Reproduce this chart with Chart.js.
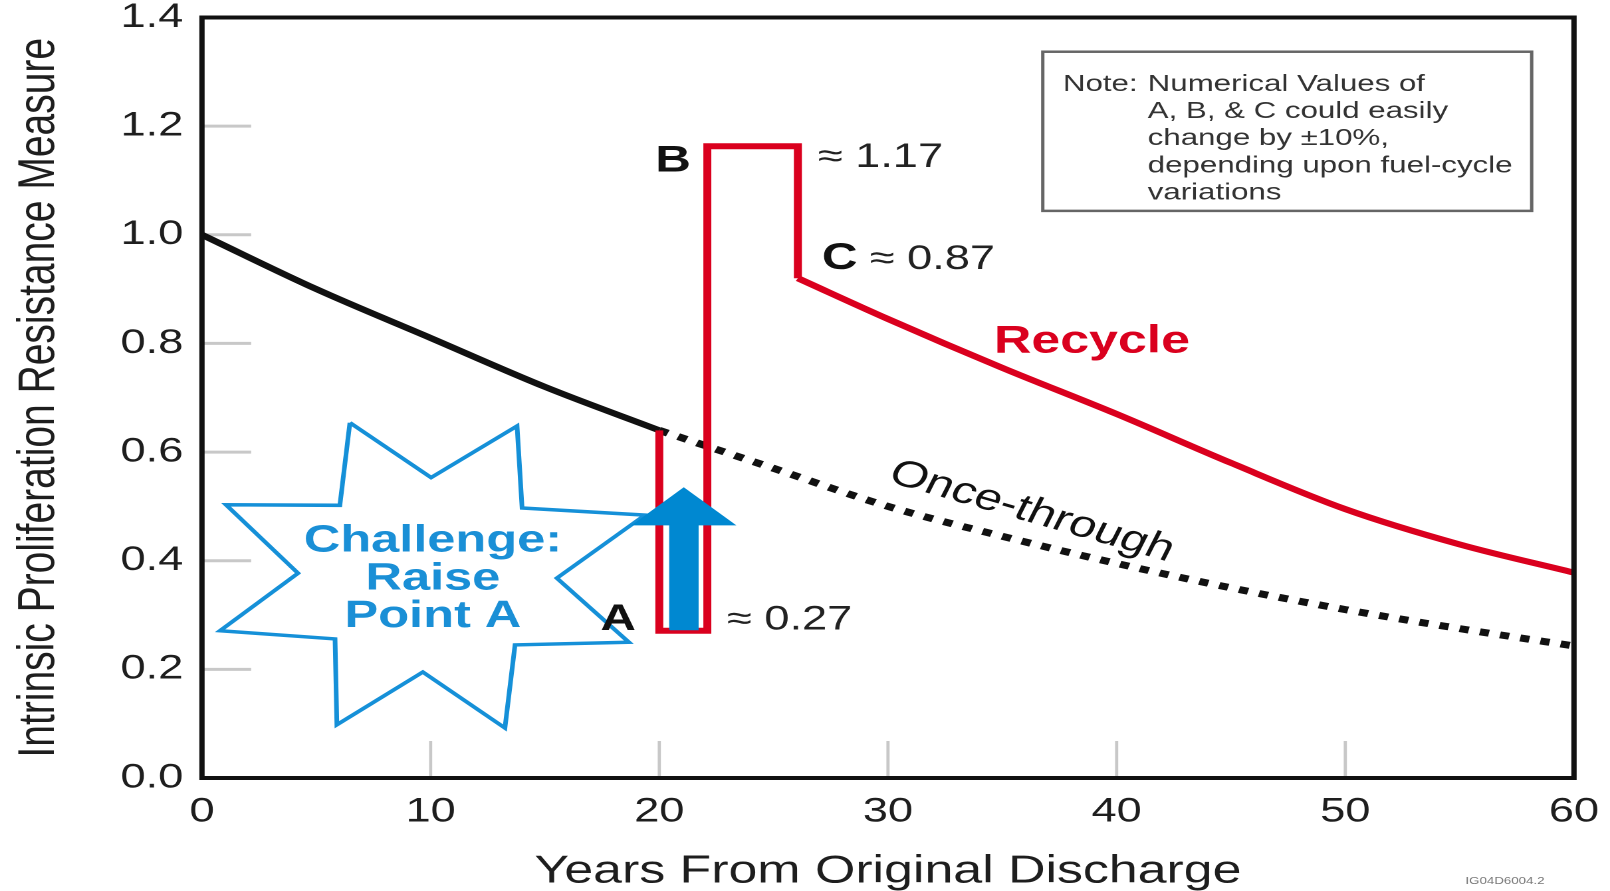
<!DOCTYPE html>
<html>
<head>
<meta charset="utf-8">
<script src="https://cdn.jsdelivr.net/npm/chart.js@4.4.0/dist/chart.umd.min.js"></script>
<style>
    html, body { margin: 0; padding: 0; background: #fff; overflow: hidden; }
    #wrap { width: 1610px; height: 891px; overflow: hidden; }
    /* the original picture is stretched sideways, so the canvas is too */
    #chart { display: block; transform: scaleX(1.32948); transform-origin: 0 0; }
</style>
</head>
<body>
<div id="wrap"><canvas id="chart" width="1211" height="891"></canvas></div>
<script>
// ticks
const xTicks = [0, 10, 20, 30, 40, 50, 60]
const yTicks = [0, 0.2, 0.4, 0.6, 0.8, 1.0, 1.2, 1.4]
const yTickLabels = ["0.0", "0.2", "0.4", "0.6", "0.8", "1.0", "1.2", "1.4"]

// once-through, solid part then dotted part
const onceSolidX = [0, 5, 10, 15, 20]
const onceSolidY = [1.00, 0.90, 0.81, 0.72, 0.64]
const onceDotX = [20, 25, 30, 35, 40, 45, 50, 55, 60]
const onceDotY = [0.64, 0.57, 0.50, 0.445, 0.395, 0.35, 0.31, 0.275, 0.243]

// recycle: the A / B / C steps, then the decay
const recycleStepX = [20, 20, 22.1, 22.1, 26.06, 26.06]
const recycleStepY = [0.64, 0.271, 0.271, 1.163, 1.163, 0.92]
const recycleX = [26.06, 30, 35, 40, 45, 50, 55, 60]
const recycleY = [0.92, 0.845, 0.755, 0.67, 0.58, 0.495, 0.43, 0.378]

// blue arrow and star outline (data units)
const arrowX = [20.46, 20.46, 18.85, 21.07, 23.3, 21.69, 21.69, 20.46]
const arrowY = [0.273, 0.466, 0.466, 0.534, 0.466, 0.466, 0.273, 0.273]
const starX = [6.47, 10.02, 13.78, 14.0, 19.37, 15.52, 18.67, 13.69, 13.25, 9.66, 5.9, 5.82, 0.79, 4.2, 1.05, 6.03, 6.47]
const starY = [0.654, 0.553, 0.648, 0.497, 0.484, 0.368, 0.25, 0.245, 0.092, 0.195, 0.098, 0.256, 0.271, 0.377, 0.503, 0.502, 0.654]

const noteLines = [
    "Numerical Values of",
    "A, B, & C could easily",
    "change by \u00b110%,",
    "depending upon fuel-cycle",
    "variations"
]

const FONT = '"Liberation Sans", Arial, sans-serif'
const RED = '#da001e'
const BLUE = '#1a8fd6'

const pts = (xs, ys) => xs.map((x, i) => ({ x: x, y: ys[i] }))

const Decor = {
    id: 'decor',

    beforeDatasetsDraw(chart) {
        const { ctx, chartArea: a, scales: { x, y } } = chart
        ctx.save()
        ctx.strokeStyle = '#c8c8c8'
        ctx.lineWidth = 3
        yTicks.slice(1, -1).forEach((v) => {
            const py = y.getPixelForValue(v)
            ctx.beginPath()
            ctx.moveTo(a.left, py)
            ctx.lineTo(a.left + 37, py)
            ctx.stroke()
        })
        ctx.lineWidth = 2.4
        xTicks.slice(1, -1).forEach((v) => {
            const px = x.getPixelForValue(v)
            ctx.beginPath()
            ctx.moveTo(px, a.bottom)
            ctx.lineTo(px, a.bottom - 37)
            ctx.stroke()
        })
        ctx.restore()
    },

    afterDatasetsDraw(chart) {
        const { ctx, chartArea: a, scales: { x, y } } = chart

        const text = (str, xv, yv, font, color, align = 'left', base = 'middle', rot = 0) => {
            ctx.save()
            ctx.translate(x.getPixelForValue(xv), y.getPixelForValue(yv))
            ctx.rotate(rot)
            ctx.font = font
            ctx.fillStyle = color
            ctx.textAlign = align
            ctx.textBaseline = base
            ctx.fillText(str, 0, 0)
            ctx.restore()
        }

        // frame
        ctx.save()
        ctx.strokeStyle = '#111'
        ctx.lineWidth = 4
        ctx.strokeRect(a.left, a.top, a.right - a.left, a.bottom - a.top)

        // note box
        const bx0 = x.getPixelForValue(36.77), bx1 = x.getPixelForValue(58.15)
        const by0 = y.getPixelForValue(1.337), by1 = y.getPixelForValue(1.044)
        ctx.strokeStyle = '#666'
        ctx.lineWidth = 2.5
        ctx.strokeRect(bx0, by0, bx1 - bx0, by1 - by0)
        ctx.restore()

        const noteFont = '23.5px ' + FONT
        text("Note:", 37.65, 1.265, noteFont, '#333', 'left', 'alphabetic')
        noteLines.forEach((line, i) => {
            text(line, 41.36, 1.265 - i * 0.05, noteFont, '#333', 'left', 'alphabetic')
        })

        const big = 'bold 37px ' + FONT
        const num = '34px ' + FONT
        text("B", 20.6, 1.135, big, '#111', 'center')
        text("\u2248 1.17", 26.93, 1.142, num, '#222')
        text("C", 27.11, 0.956, big, '#111')
        text("\u2248 0.87", 29.2, 0.954, num, '#222')
        text("A", 18.2, 0.291, big, '#111', 'center')
        text("\u2248 0.27", 22.96, 0.291, num, '#222')
        text("Recycle", 38.92, 0.803, 'bold 39px ' + FONT, RED, 'center')
        text("Once-through", 36.29, 0.49, '37px ' + FONT, '#111', 'center', 'middle', 20.8 * Math.PI / 180)

        const starFont = 'bold 38px ' + FONT
        text("Challenge:", 10.1, 0.436, starFont, BLUE, 'center')
        text("Raise", 10.1, 0.366, starFont, BLUE, 'center')
        text("Point A", 10.1, 0.297, starFont, BLUE, 'center')

        // drawing id, bottom right
        ctx.save()
        ctx.font = '10px ' + FONT
        ctx.fillStyle = '#777'
        ctx.textAlign = 'center'
        ctx.textBaseline = 'middle'
        ctx.fillText("IG04D6004.2", 1505 / 1.32948, 881)
        ctx.restore()
    }
}

const lineStyle = { pointRadius: 0, fill: false, borderJoinStyle: 'miter' }

const chart = new Chart(document.getElementById('chart'), {
    type: 'line',
    data: {
        datasets: [
            {
                ...lineStyle,
                data: pts(arrowX, arrowY),
                borderColor: '#0088d1',
                backgroundColor: '#0088d1',
                borderWidth: 1,
                fill: 'shape',
                tension: 0
            },
            {
                ...lineStyle,
                data: pts(recycleStepX, recycleStepY),
                borderColor: RED,
                borderWidth: 6,
                tension: 0
            },
            {
                ...lineStyle,
                data: pts(recycleX, recycleY),
                borderColor: RED,
                borderWidth: 6,
                cubicInterpolationMode: 'monotone'
            },
            {
                ...lineStyle,
                data: pts(onceSolidX, onceSolidY),
                borderColor: '#111',
                borderWidth: 6,
                cubicInterpolationMode: 'monotone'
            },
            {
                ...lineStyle,
                data: pts(onceDotX, onceDotY),
                borderColor: '#111',
                borderWidth: 7,
                borderDash: [7, 8.5],
                borderCapStyle: 'butt',
                cubicInterpolationMode: 'monotone'
            },
            {
                ...lineStyle,
                data: pts(starX, starY),
                borderColor: '#1590d8',
                borderWidth: 3.5,
                tension: 0
            }
        ]
    },
    options: {
        responsive: false,
        animation: false,
        devicePixelRatio: 2,
        layout: { padding: { left: 0, top: 17.5, right: 27.1, bottom: 0 } },
        plugins: {
            legend: { display: false },
            tooltip: { enabled: false }
        },
        scales: {
            x: {
                type: 'linear',
                min: 0,
                max: 60,
                afterFit(scale) { scale.height = 113 },
                afterBuildTicks(scale) { scale.ticks = xTicks.map((v) => ({ value: v })) },
                ticks: {
                    color: '#1e1e1e',
                    padding: 0,
                    // tall line box puts the labels below the axis without extra side padding
                    font: { family: FONT, size: 34, lineHeight: 2 },
                    callback: (v) => String(v)
                },
                grid: { display: false, drawTicks: false },
                border: { display: false },
                title: {
                    display: true,
                    text: 'Years From Original Discharge',
                    color: '#1e1e1e',
                    font: { family: FONT, size: 39, lineHeight: 1 },
                    padding: { top: 0, bottom: 0 }
                }
            },
            y: {
                type: 'linear',
                min: 0,
                max: 1.4,
                afterFit(scale) { scale.width = 151.9 },
                afterBuildTicks(scale) { scale.ticks = yTicks.map((v) => ({ value: v })) },
                ticks: {
                    color: '#1e1e1e',
                    padding: 14,
                    font: { family: FONT, size: 34, lineHeight: 0.2 },
                    callback: (v) => yTickLabels[yTicks.findIndex((t) => Math.abs(t - v) < 1e-6)]
                },
                grid: { display: false, drawTicks: false },
                border: { display: false },
                title: {
                    display: true,
                    text: 'Intrinsic Proliferation Resistance Measure',
                    color: '#1e1e1e',
                    font: { family: FONT, size: 39, lineHeight: 1 },
                    padding: { top: 10, bottom: 0 }
                }
            }
        }
    },
    plugins: [Decor]
})
</script>
</body>
</html>
